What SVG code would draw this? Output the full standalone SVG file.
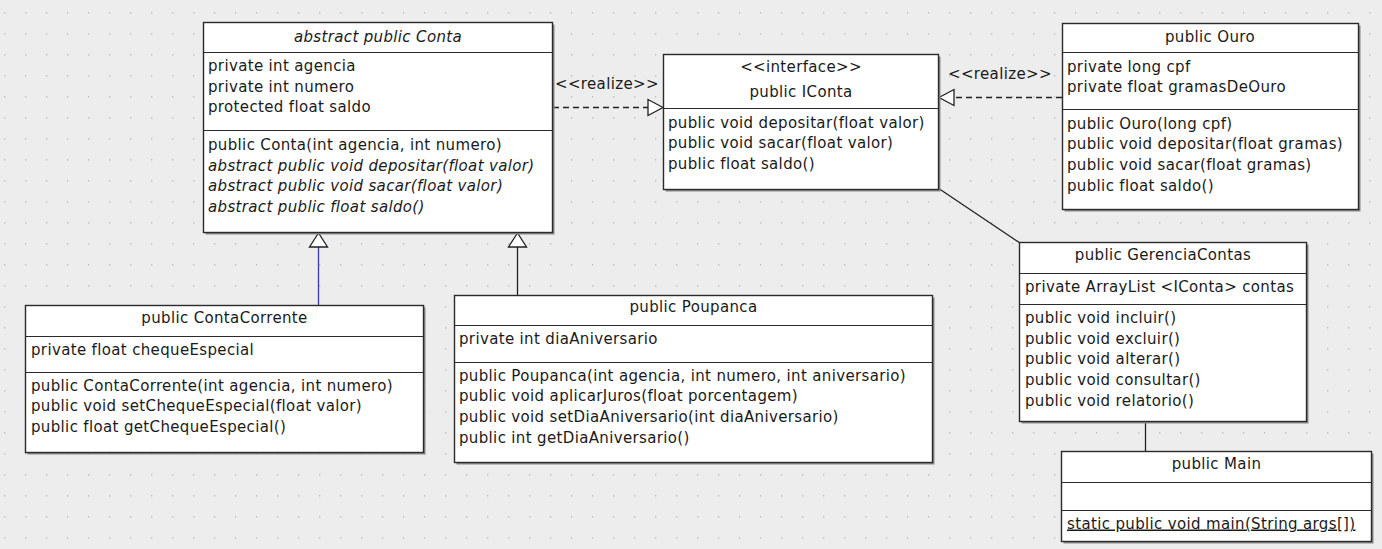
<svg xmlns="http://www.w3.org/2000/svg" width="1382" height="549" viewBox="0 0 1382 549">
<style>
.box{fill:#fff;stroke:#2a2a2a;stroke-width:1.4}
.sh{fill:#8a8a8a}
.sep{stroke:#2a2a2a;stroke-width:1.2}
text{font-family:"DejaVu Sans",Verdana,sans-serif;font-size:15px;letter-spacing:0.35px;fill:#1a1a1a}
.c{text-anchor:middle}
.it{font-style:italic}
.u{text-decoration:underline}
.ln{stroke:#222;stroke-width:1.3;fill:none}
.dash{stroke-dasharray:6,4}
.blue{stroke:#3a3ab0}
.tri{fill:#fff;stroke:#222;stroke-width:1.3}
</style>
<defs>
<pattern id="grid" x="4" y="12" width="21" height="21" patternUnits="userSpaceOnUse">
<rect x="0" y="0" width="1.3" height="1.6" fill="#c2c2c2"/>
</pattern>
</defs>
<rect width="1382" height="549" fill="#ededed"/>
<rect width="1382" height="549" fill="url(#grid)"/>

<g id="connectors">
<line class="ln dash" x1="553" y1="107.5" x2="648" y2="107.5"/>
<polygon class="tri" points="663,107.5 648,99.5 648,115.5"/>
<text x="555" y="89">&lt;&lt;realize&gt;&gt;</text>
<line class="ln dash" x1="1062" y1="97.5" x2="954" y2="97.5"/>
<polygon class="tri" points="939,97.5 954,89.5 954,105.5"/>
<text x="948" y="79">&lt;&lt;realize&gt;&gt;</text>
<line class="ln blue" x1="318.5" y1="305" x2="318.5" y2="247"/>
<polygon class="tri blue" points="318.5,233 309.5,247 327.5,247"/>
<line class="ln" x1="517.5" y1="295" x2="517.5" y2="247"/>
<polygon class="tri" points="517.5,233 508.5,247 526.5,247"/>
<line class="ln" x1="938" y1="188" x2="1020" y2="243"/>
<line class="ln" x1="1145.5" y1="422" x2="1145.5" y2="451"/>
</g>

<g id="Conta">
<rect class="sh" x="205.5" y="24.5" width="349" height="210"/>
<rect class="box" x="203.5" y="22.5" width="349" height="210"/>
<line class="sep" x1="203.5" y1="52.5" x2="552.5" y2="52.5"/>
<line class="sep" x1="203.5" y1="130.5" x2="552.5" y2="130.5"/>
<text class="c it" x="378" y="41.5">abstract public Conta</text>
<text x="208" y="71">private int agencia</text>
<text x="208" y="91.7">private int numero</text>
<text x="208" y="112.4">protected float saldo</text>
<text x="208" y="150">public Conta(int agencia, int numero)</text>
<text class="it" x="208" y="170.7">abstract public void depositar(float valor)</text>
<text class="it" x="208" y="191.4">abstract public void sacar(float valor)</text>
<text class="it" x="208" y="212.1">abstract public float saldo()</text>
</g>

<g id="IConta">
<rect class="sh" x="665.5" y="56.5" width="275" height="135"/>
<rect class="box" x="663.5" y="54.5" width="275" height="135"/>
<line class="sep" x1="663.5" y1="108.5" x2="938.5" y2="108.5"/>
<text class="c" x="801" y="72">&lt;&lt;interface&gt;&gt;</text>
<text class="c" x="801" y="96.5">public IConta</text>
<text x="668" y="127.5">public void depositar(float valor)</text>
<text x="668" y="148.2">public void sacar(float valor)</text>
<text x="668" y="168.9">public float saldo()</text>
</g>

<g id="Ouro">
<rect class="sh" x="1064.5" y="25.5" width="296" height="186"/>
<rect class="box" x="1062.5" y="23.5" width="296" height="186"/>
<line class="sep" x1="1062.5" y1="52.5" x2="1358.5" y2="52.5"/>
<line class="sep" x1="1062.5" y1="109.5" x2="1358.5" y2="109.5"/>
<text class="c" x="1210" y="41.5">public Ouro</text>
<text x="1067" y="71.5">private long cpf</text>
<text x="1067" y="92.2">private float gramasDeOuro</text>
<text x="1067" y="128.5">public Ouro(long cpf)</text>
<text x="1067" y="149.2">public void depositar(float gramas)</text>
<text x="1067" y="169.9">public void sacar(float gramas)</text>
<text x="1067" y="190.6">public float saldo()</text>
</g>

<g id="ContaCorrente">
<rect class="sh" x="27.5" y="307.5" width="398" height="147"/>
<rect class="box" x="25.5" y="305.5" width="398" height="147"/>
<line class="sep" x1="25.5" y1="336.5" x2="423.5" y2="336.5"/>
<line class="sep" x1="25.5" y1="372.5" x2="423.5" y2="372.5"/>
<text class="c" x="224.5" y="322.5">public ContaCorrente</text>
<text x="31" y="354.5">private float chequeEspecial</text>
<text x="31" y="390.5">public ContaCorrente(int agencia, int numero)</text>
<text x="31" y="411.2">public void setChequeEspecial(float valor)</text>
<text x="31" y="431.9">public float getChequeEspecial()</text>
</g>

<g id="Poupanca">
<rect class="sh" x="456.5" y="297.5" width="478" height="167"/>
<rect class="box" x="454.5" y="295.5" width="478" height="167"/>
<line class="sep" x1="454.5" y1="325.5" x2="932.5" y2="325.5"/>
<line class="sep" x1="454.5" y1="362.5" x2="932.5" y2="362.5"/>
<text class="c" x="693.5" y="312">public Poupanca</text>
<text x="459" y="344">private int diaAniversario</text>
<text x="459" y="380.5">public Poupanca(int agencia, int numero, int aniversario)</text>
<text x="459" y="401.2">public void aplicarJuros(float porcentagem)</text>
<text x="459" y="421.9">public void setDiaAniversario(int diaAniversario)</text>
<text x="459" y="442.6">public int getDiaAniversario()</text>
</g>

<g id="GerenciaContas">
<rect class="sh" x="1021.5" y="244.5" width="287" height="179"/>
<rect class="box" x="1019.5" y="242.5" width="287" height="179"/>
<line class="sep" x1="1019.5" y1="273.5" x2="1306.5" y2="273.5"/>
<line class="sep" x1="1019.5" y1="304.5" x2="1306.5" y2="304.5"/>
<text class="c" x="1163" y="260">public GerenciaContas</text>
<text x="1025" y="291.5">private ArrayList &lt;IConta&gt; contas</text>
<text x="1025" y="322.8">public void incluir()</text>
<text x="1025" y="343.5">public void excluir()</text>
<text x="1025" y="364.2">public void alterar()</text>
<text x="1025" y="384.9">public void consultar()</text>
<text x="1025" y="405.6">public void relatorio()</text>
</g>

<g id="Main">
<rect class="sh" x="1063.5" y="453.5" width="310" height="90"/>
<rect class="box" x="1061.5" y="451.5" width="310" height="90"/>
<line class="sep" x1="1061.5" y1="482.5" x2="1371.5" y2="482.5"/>
<line class="sep" x1="1061.5" y1="510.5" x2="1371.5" y2="510.5"/>
<text class="c" x="1216.5" y="468.5">public Main</text>
<text class="u" x="1067" y="528.5">static public void main(String args[])</text>
</g>
</svg>
